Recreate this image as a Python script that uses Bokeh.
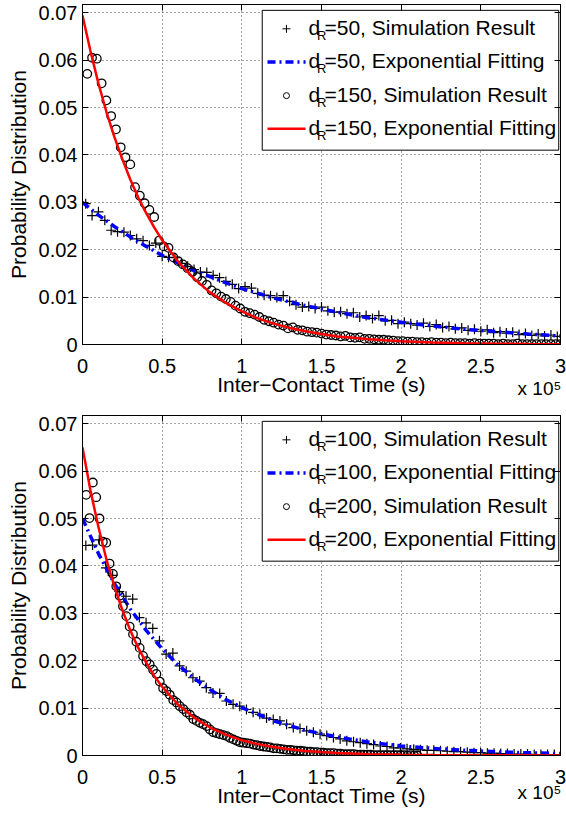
from bokeh.plotting import figure
from bokeh.models import Range1d, FixedTicker, LinearAxis, Label, CustomJSTickFormatter
from bokeh.layouts import column
from bokeh.embed import file_html
from bokeh.resources import INLINE

FONT = "Liberation Sans"

# ---------------- axis ticks ----------------
X_TICKS = [0, 0.5, 1, 1.5, 2, 2.5, 3]
X_TICK_LABELS = ["0", "0.5", "1", "1.5", "2", "2.5", "3"]
Y_TICKS = [0, 0.01, 0.02, 0.03, 0.04, 0.05, 0.06, 0.07]
Y_TICK_LABELS = ["0", "0.01", "0.02", "0.03", "0.04", "0.05", "0.06", "0.07"]
X_LABEL = "Inter\u2212Contact Time (s)"
Y_LABEL = "Probability Distribution"
EXP_TEXT = "x 10\u2075"
EXP_POS = 2.868

# ---------------- top panel (x in units of 1e5 s) ----------------
TOP_SIM50_X = [
    0.02, 0.06, 0.10, 0.14, 0.18, 0.22, 0.26, 0.30, 0.34, 0.38,
    0.42, 0.46, 0.50, 0.54, 0.58, 0.62, 0.66, 0.70, 0.74, 0.78,
    0.82, 0.86, 0.90, 0.94, 0.98, 1.02, 1.06, 1.10, 1.14, 1.18,
    1.22, 1.26, 1.30, 1.34, 1.38, 1.42, 1.46, 1.50, 1.54, 1.58,
    1.62, 1.66, 1.70, 1.74, 1.78, 1.82, 1.86, 1.90, 1.94, 1.98,
    2.02, 2.06, 2.10, 2.14, 2.18, 2.22, 2.26, 2.30, 2.34, 2.38,
    2.42, 2.46, 2.50, 2.54, 2.58, 2.62, 2.66, 2.70, 2.74, 2.78,
    2.82, 2.86, 2.90, 2.94, 2.98]
TOP_SIM50_Y = [
    0.0297, 0.0272, 0.0280, 0.0262, 0.0241, 0.0238, 0.0237, 0.0230, 0.0223, 0.0219,
    0.0209, 0.0214, 0.0186, 0.0184, 0.0183, 0.0171, 0.0165, 0.0158, 0.0153, 0.0152,
    0.0146, 0.0141, 0.0133, 0.0127, 0.0118, 0.0122, 0.0119, 0.0108, 0.0104, 0.0103,
    0.0099, 0.0103, 0.0091, 0.0084, 0.0079, 0.0080, 0.0076, 0.0079, 0.0071, 0.0068,
    0.0069, 0.0065, 0.0067, 0.0058, 0.0061, 0.0055, 0.0061, 0.0050, 0.0051, 0.0044,
    0.0047, 0.0044, 0.0041, 0.0045, 0.0038, 0.0042, 0.0036, 0.0038, 0.0033, 0.0035,
    0.0030, 0.0032, 0.0028, 0.0031, 0.0025, 0.0027, 0.0024, 0.0026, 0.0021, 0.0023,
    0.0019, 0.0022, 0.0018, 0.0020, 0.0017]
TOP_FIT50_X = [0, 0.1, 0.2, 0.3, 0.4, 0.5, 0.6, 0.7, 0.8, 0.9, 1.0,
               1.2, 1.4, 1.6, 1.8, 2.0, 2.2, 2.4, 2.6, 2.8, 3.0]
TOP_FIT50_Y = [0.0300, 0.0273, 0.0249, 0.0227, 0.0207, 0.0188, 0.0172, 0.0156, 0.0143, 0.0130, 0.0118,
               0.0098, 0.0082, 0.0068, 0.0056, 0.0047, 0.0039, 0.0032, 0.0027, 0.0022, 0.0018]
TOP_SIM150_X = [
    0.03, 0.06, 0.09, 0.12, 0.15, 0.18, 0.21, 0.24, 0.27, 0.30,
    0.33, 0.36, 0.39, 0.42, 0.45, 0.48, 0.51, 0.54, 0.57, 0.60,
    0.63, 0.66, 0.69, 0.72, 0.75, 0.78, 0.81, 0.84, 0.87, 0.90,
    0.93, 0.96, 0.99, 1.02, 1.05, 1.08, 1.11, 1.14, 1.17, 1.20,
    1.23, 1.26, 1.29, 1.32, 1.35, 1.38, 1.41, 1.44, 1.47, 1.50,
    1.53, 1.56, 1.59, 1.62, 1.65, 1.68, 1.71, 1.74, 1.77, 1.80,
    1.83, 1.86, 1.89, 1.92, 1.95, 1.98, 2.01, 2.04, 2.07, 2.10,
    2.13, 2.16, 2.19, 2.22, 2.25, 2.28, 2.31, 2.34, 2.37, 2.40,
    2.43, 2.46, 2.49, 2.52, 2.55, 2.58, 2.61, 2.64, 2.67, 2.70,
    2.73, 2.76, 2.79, 2.82, 2.85, 2.88, 2.91, 2.94, 2.97, 3.00]
TOP_SIM150_Y = [
    0.0571, 0.0605, 0.0603, 0.0551, 0.0515, 0.0482, 0.0454, 0.0416, 0.0395, 0.0380,
    0.0332, 0.0314, 0.0298, 0.0284, 0.0269, 0.0219, 0.0207, 0.0204, 0.0184, 0.0176,
    0.0169, 0.0161, 0.0153, 0.0142, 0.0134, 0.0126, 0.0114, 0.0108, 0.0101, 0.0096,
    0.0090, 0.0082, 0.0076, 0.0069, 0.0066, 0.0063, 0.0058, 0.0052, 0.0049, 0.0046,
    0.0042, 0.0040, 0.0034, 0.0036, 0.0031, 0.0030, 0.0027, 0.0026, 0.0025, 0.0023,
    0.0021, 0.0020, 0.0019, 0.0017, 0.0018, 0.0015, 0.0014, 0.0015, 0.0012, 0.0012,
    0.0011, 0.0010, 0.0010, 0.0009, 0.0008, 0.0007, 0.0007, 0.0006, 0.0006, 0.0005,
    0.0005, 0.0004, 0.0005, 0.0004, 0.0004, 0.0003, 0.0004, 0.0003, 0.0003, 0.0003,
    0.0002, 0.0003, 0.0002, 0.0002, 0.0002, 0.0002, 0.0001, 0.0002, 0.0001, 0.0001,
    0.0002, 0.0001, 0.0001, 0.0001, 0.0001, 0.0001, 0.0001, 0.0001, 0.0001, 0.0001]
TOP_FIT150_X = [0, 0.05, 0.1, 0.15, 0.2, 0.25, 0.3, 0.35, 0.4, 0.45, 0.5,
                0.6, 0.7, 0.8, 0.9, 1.0, 1.1, 1.2, 1.3, 1.4, 1.5, 1.6, 1.7, 1.8, 1.9, 2.0,
                2.2, 2.4, 2.6, 2.8, 3.0]
TOP_FIT150_Y = [0.0694, 0.0619, 0.0551, 0.0491, 0.0438, 0.0391, 0.0348, 0.0310, 0.0277, 0.0247, 0.0220,
                0.0175, 0.0139, 0.0110, 0.0088, 0.0070, 0.0055, 0.0044, 0.0035, 0.0028, 0.0022,
                0.0017, 0.0014, 0.0011, 0.00088, 0.00070,
                0.00044, 0.00028, 0.00018, 0.00011, 0.00007]

# ---------------- bottom panel ----------------
BOT_SIM100_X = [
    0.021, 0.063, 0.105, 0.147, 0.189, 0.231, 0.273, 0.315, 0.357, 0.399,
    0.441, 0.483, 0.525, 0.567, 0.609, 0.651, 0.693, 0.735, 0.777, 0.819,
    0.861, 0.903, 0.945, 0.987, 1.029, 1.071, 1.113, 1.155, 1.197, 1.239,
    1.281, 1.323, 1.365, 1.407, 1.449, 1.491, 1.533, 1.575, 1.617, 1.659,
    1.701, 1.743, 1.785, 1.827, 1.869, 1.911, 1.953, 1.995, 2.037, 2.079,
    2.121, 2.163, 2.205, 2.247, 2.289, 2.331, 2.373, 2.415, 2.457, 2.499,
    2.541, 2.583, 2.625, 2.667, 2.709, 2.751, 2.793, 2.835, 2.877, 2.919,
    2.961]
BOT_SIM100_Y = [
    0.0443, 0.0444, 0.0455, 0.0396, 0.0380, 0.0346, 0.0336, 0.0330, 0.0291, 0.0280,
    0.0268, 0.0242, 0.0214, 0.0216, 0.0189, 0.0178, 0.0164, 0.0157, 0.0143, 0.0132,
    0.0131, 0.0115, 0.0108, 0.0104, 0.0097, 0.0091, 0.0087, 0.0079, 0.0076, 0.0073,
    0.0066, 0.0059, 0.0057, 0.0052, 0.0049, 0.0045, 0.0042, 0.0038, 0.0035, 0.0031,
    0.0029, 0.0027, 0.0025, 0.0023, 0.0020, 0.0019, 0.0016, 0.0016, 0.0014, 0.0013,
    0.0012, 0.0011, 0.0011, 0.0010, 0.0009, 0.0008, 0.0008, 0.0007, 0.0006, 0.0006,
    0.0005, 0.0005, 0.0004, 0.0004, 0.0003, 0.0003, 0.0003, 0.0002, 0.0002, 0.0002,
    0.0002]
BOT_FIT100_X = [0, 0.1, 0.2, 0.3, 0.4, 0.5, 0.6, 0.7, 0.8, 0.9, 1.0,
                1.2, 1.4, 1.6, 1.8, 2.0, 2.2, 2.4, 2.6, 2.8, 3.0]
BOT_FIT100_Y = [0.0500, 0.0426, 0.0363, 0.0309, 0.0264, 0.0225, 0.0191, 0.0163, 0.0139, 0.0118, 0.0101,
                0.0073, 0.0053, 0.0039, 0.0028, 0.0020, 0.0015, 0.0011, 0.00078, 0.00057, 0.00041]
BOT_SIM200_X = [
    0.023, 0.044, 0.065, 0.086, 0.107, 0.128, 0.149, 0.170, 0.191, 0.212,
    0.233, 0.254, 0.275, 0.296, 0.317, 0.338, 0.359, 0.380, 0.401, 0.422,
    0.443, 0.464, 0.485, 0.506, 0.527, 0.548, 0.569, 0.590, 0.611, 0.632,
    0.653, 0.674, 0.695, 0.716, 0.737, 0.758, 0.779, 0.800, 0.821, 0.842,
    0.863, 0.884, 0.905, 0.926, 0.947, 0.968, 0.989, 1.010, 1.031, 1.052,
    1.073, 1.094, 1.115, 1.136, 1.157, 1.178, 1.199, 1.220, 1.241, 1.262,
    1.283, 1.304, 1.325, 1.346, 1.367, 1.388, 1.409, 1.430, 1.451, 1.472,
    1.493, 1.514, 1.535, 1.556, 1.577, 1.598, 1.619, 1.640, 1.661, 1.682,
    1.703, 1.724, 1.745, 1.766, 1.787, 1.808, 1.829, 1.850, 1.871, 1.892,
    1.913, 1.934, 1.955, 1.976, 1.997, 2.018, 2.039, 2.060, 2.081, 2.102]
BOT_SIM200_Y = [
    0.0550, 0.0501, 0.0576, 0.0545, 0.0500, 0.0451, 0.0449, 0.0405, 0.0383, 0.0357,
    0.0337, 0.0315, 0.0294, 0.0272, 0.0256, 0.0240, 0.0227, 0.0210, 0.0199, 0.0192,
    0.0181, 0.0172, 0.0156, 0.0142, 0.0136, 0.0128, 0.0117, 0.0112, 0.0104, 0.0098,
    0.0091, 0.0086, 0.0077, 0.0073, 0.0069, 0.0066, 0.0062, 0.0055, 0.0049, 0.0047,
    0.0045, 0.0043, 0.0041, 0.0037, 0.0034, 0.0031, 0.0028, 0.0027, 0.0026, 0.0025,
    0.0023, 0.0022, 0.0020, 0.0019, 0.0018, 0.0017, 0.0015, 0.0015, 0.0014, 0.0013,
    0.0012, 0.0012, 0.0011, 0.0010, 0.0010, 0.0009, 0.0008, 0.0008, 0.0007, 0.0007,
    0.0006, 0.0006, 0.0005, 0.0005, 0.0005, 0.0004, 0.0004, 0.0003, 0.0003, 0.0003,
    0.0003, 0.0002, 0.0002, 0.0002, 0.0002, 0.0002, 0.0001, 0.0001, 0.0001, 0.0001,
    0.0001, 0.0001, 0.0001, 0.0001, 0.0001, 0.0001, 0.0000, 0.0001, 0.0000, 0.0000]
BOT_FIT200_X = [0, 0.05, 0.1, 0.15, 0.2, 0.25, 0.3, 0.35, 0.4, 0.45, 0.5,
                0.6, 0.7, 0.8, 0.9, 1.0, 1.1, 1.2, 1.3, 1.4, 1.5, 1.6, 1.8, 2.0, 2.2, 2.5, 3.0]
BOT_FIT200_Y = [0.0650, 0.0559, 0.0482, 0.0414, 0.0357, 0.0307, 0.0264, 0.0227, 0.0196, 0.0168, 0.0145,
                0.0107, 0.0080, 0.0059, 0.0044, 0.0032, 0.0024, 0.0018, 0.0013, 0.00097, 0.00072,
                0.00054, 0.00029, 0.00016, 0.00009, 0.00004, 0.00001]

TOP_LABELS = ["=50, Simulation Result", "=50, Exponential Fitting",
              "=150, Simulation Result", "=150, Exponential Fitting"]
BOT_LABELS = ["=100, Simulation Result", "=100, Exponential Fitting",
              "=200, Simulation Result", "=200, Exponential Fitting"]

# legend placement (data coordinates of the panel)
LEG_L, LEG_R, LEG_T, LEG_B = 1.128, 2.989, 0.0705, 0.0410
LEG_ROWS = [0.0666, 0.0596, 0.0525, 0.0455]
LEG_SYM_X = 1.280
LEG_LINE_X = [1.161, 1.400]
LEG_TEXT_X = 1.418

BLUE = "#0000ff"
RED = "#ff0000"
YMAX = 0.07173


def tick_formatter(vals, labels):
    return CustomJSTickFormatter(args=dict(vals=vals, labels=labels),
                                 code="const i = vals.indexOf(tick); return i < 0 ? '' : labels[i];")


def make_panel(height, b_top, b_bottom, sim_a_x, sim_a_y, fit_a_x, fit_a_y,
               sim_b_x, sim_b_y, fit_b_x, fit_b_y, labels, exp_standoff):
    p = figure(width=566, height=height, x_range=Range1d(0, 3), y_range=Range1d(0, YMAX),
               output_backend="svg", toolbar_location=None,
               min_border_left=82, min_border_right=6,
               min_border_top=b_top, min_border_bottom=b_bottom,
               background_fill_color="white", border_fill_color="white")
    p.outline_line_color = "black"
    p.outline_line_width = 1

    p.xaxis.ticker = FixedTicker(ticks=X_TICKS)
    p.xaxis.formatter = tick_formatter(X_TICKS, X_TICK_LABELS)
    p.yaxis.ticker = FixedTicker(ticks=Y_TICKS)
    p.yaxis.formatter = tick_formatter(Y_TICKS, Y_TICK_LABELS)
    for ax in (p.xaxis[0], p.yaxis[0]):
        ax.major_label_text_font = FONT
        ax.major_label_text_font_size = "20px"
        ax.major_label_text_color = "black"
        ax.axis_label_text_font = FONT
        ax.axis_label_text_font_size = "21px"
        ax.axis_label_text_font_style = "normal"
        ax.axis_label_text_color = "black"
        ax.major_tick_in = 6
        ax.major_tick_out = 0
        ax.minor_tick_line_color = None
        ax.axis_line_color = "black"
        ax.major_tick_line_color = "black"
    p.xaxis.axis_label = X_LABEL
    p.yaxis.axis_label = Y_LABEL
    p.xaxis.major_label_standoff = 14
    p.xaxis.axis_label_standoff = -3
    p.yaxis.major_label_standoff = 5
    p.yaxis.axis_label_standoff = 6

    # "x 10^5" multiplier as the single label of an extra bottom axis
    exp_ax = LinearAxis(ticker=FixedTicker(ticks=[EXP_POS]),
                        formatter=CustomJSTickFormatter(args=dict(t=EXP_TEXT), code="return t;"),
                        major_label_text_font=FONT, major_label_text_font_size="19px",
                        major_label_text_color="black", major_label_standoff=exp_standoff,
                        major_tick_in=0, major_tick_out=0, major_tick_line_color=None,
                        minor_tick_line_color=None, axis_line_color=None)
    p.add_layout(exp_ax, "below")

    # tick marks on the top and right edges (box on)
    top_ax = LinearAxis(ticker=FixedTicker(ticks=X_TICKS),
                        formatter=CustomJSTickFormatter(code="return '';"),
                        major_label_text_font_size="0px", major_label_standoff=0,
                        major_tick_in=6, major_tick_out=0, minor_tick_line_color=None,
                        axis_line_color="black", major_tick_line_color="black")
    right_ax = LinearAxis(ticker=FixedTicker(ticks=Y_TICKS),
                          formatter=CustomJSTickFormatter(code="return '';"),
                          major_label_text_font_size="0px", major_label_standoff=0,
                          major_tick_in=6, major_tick_out=0, minor_tick_line_color=None,
                          axis_line_color="black", major_tick_line_color="black")
    p.add_layout(top_ax, "above")
    p.add_layout(right_ax, "right")

    for g in (p.xgrid[0], p.ygrid[0]):
        g.grid_line_color = "#4a4a4a"
        g.grid_line_dash = "1 3"
        g.grid_line_width = 1

    # data
    p.scatter(sim_a_x, sim_a_y, marker="cross", size=10, line_color="black", line_width=1.2)
    p.line(fit_a_x, fit_a_y, line_color=BLUE, line_width=3.5, line_dash="8 4 2 4")
    p.scatter(sim_b_x, sim_b_y, marker="circle", size=8.5, fill_color=None,
              line_color="black", line_width=1.3)
    p.line(fit_b_x, fit_b_y, line_color=RED, line_width=2.5)

    # legend box
    p.quad(left=[LEG_L], right=[LEG_R], bottom=[LEG_B], top=[LEG_T],
           fill_color="white", line_color="black", line_width=1)
    p.scatter([LEG_SYM_X], [LEG_ROWS[0]], marker="cross", size=8, line_color="black", line_width=1)
    p.line(LEG_LINE_X, [LEG_ROWS[1], LEG_ROWS[1]], line_color=BLUE, line_width=3.5, line_dash="8 4 2 4")
    p.scatter([LEG_SYM_X], [LEG_ROWS[2]], marker="circle", size=6, fill_color=None,
              line_color="black", line_width=1)
    p.line(LEG_LINE_X, [LEG_ROWS[3], LEG_ROWS[3]], line_color=RED, line_width=2.5)
    for row, txt in zip(LEG_ROWS, labels):
        p.add_layout(Label(x=LEG_TEXT_X, y=row, text="d", text_font=FONT, text_font_size="21px",
                           text_baseline="alphabetic", y_offset=1, text_color="black"))
        p.add_layout(Label(x=LEG_TEXT_X, y=row, text="R", text_font=FONT, text_font_size="13px",
                           text_baseline="alphabetic", x_offset=8.5, y_offset=-7, text_color="black"))
        p.add_layout(Label(x=LEG_TEXT_X, y=row, text=txt, text_font=FONT, text_font_size="21px",
                           text_baseline="alphabetic", x_offset=16, y_offset=1, text_color="black"))
    return p


p1 = make_panel(403, 4, 59, TOP_SIM50_X, TOP_SIM50_Y, TOP_FIT50_X, TOP_FIT50_Y,
                TOP_SIM150_X, TOP_SIM150_Y, TOP_FIT150_X, TOP_FIT150_Y, TOP_LABELS, -21)
p2 = make_panel(409, 12, 57, BOT_SIM100_X, BOT_SIM100_Y, BOT_FIT100_X, BOT_FIT100_Y,
                BOT_SIM200_X, BOT_SIM200_Y, BOT_FIT200_X, BOT_FIT200_Y, BOT_LABELS, -28)

layout = column(p1, p2, spacing=0)
open("out.html", "w").write(file_html(layout, INLINE))
